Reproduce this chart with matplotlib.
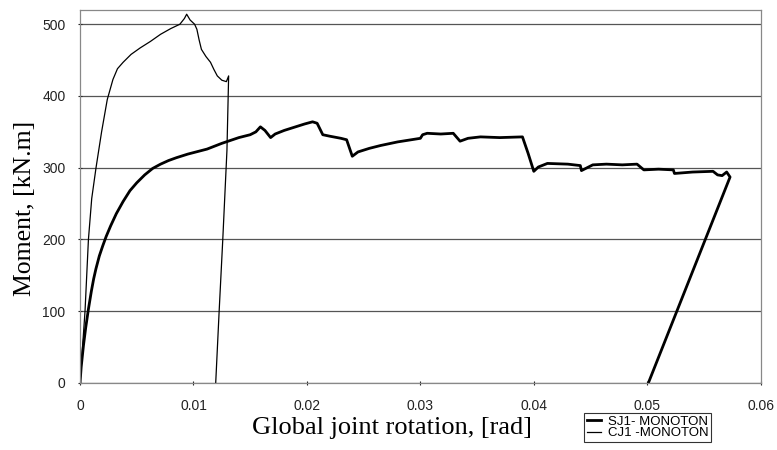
import matplotlib
matplotlib.use("Agg")
import matplotlib.pyplot as plt
import numpy as np

# SJ1 - monotonic test (thick line)
sj1_rot = [0, 0.0001, 0.0003, 0.0005, 0.00074, 0.001, 0.0012, 0.0014, 0.0017,
           0.002, 0.0023, 0.0027, 0.0032, 0.0038, 0.0044, 0.005, 0.0057, 0.0064, 0.0071,
           0.0078, 0.0085, 0.0095, 0.0112, 0.0125, 0.014, 0.015, 0.0155,
           0.0159, 0.0163, 0.0168, 0.0172, 0.018, 0.019, 0.0198, 0.0205,
           0.0209, 0.0214, 0.022, 0.023, 0.0235, 0.024, 0.0245, 0.0255,
           0.0265, 0.028, 0.030, 0.0302, 0.0306, 0.0318, 0.0329, 0.0335,
           0.0342, 0.0353, 0.037, 0.039, 0.0395, 0.0400, 0.0404, 0.0412,
           0.043, 0.0441, 0.0442, 0.0452, 0.0464, 0.0478, 0.0491, 0.0497,
           0.051, 0.0523, 0.0524, 0.054, 0.0558, 0.0562, 0.0566, 0.0570,
           0.0573, 0.0501]
sj1_mom = [0, 22, 52, 77, 103, 128, 145, 159, 177,
           191, 204, 219, 236, 253, 268, 279, 290, 299, 305,
           310, 314, 319, 326, 334, 342, 346, 350,
           357, 352, 342, 347, 352, 357, 361, 364,
           362, 346, 344, 341, 339, 316, 322, 327,
           331, 336, 341, 346, 348, 347, 348, 337,
           341, 343, 342, 343, 320, 295, 301, 306,
           305, 303, 296, 304, 305, 304, 305, 297,
           298, 297, 292, 294, 295, 290, 289, 294,
           287, 0]

# CJ1 - monotonic test (thin line)
cj1_rot = [0, 0.00044, 0.00074, 0.00103, 0.00141, 0.0019, 0.0024,
           0.0029, 0.0033, 0.0038, 0.0045, 0.0053, 0.0062, 0.0071, 0.008,
           0.0088, 0.0092, 0.0094, 0.0097, 0.0101, 0.0103, 0.0105, 0.0107,
           0.0111, 0.0115, 0.0118, 0.0121, 0.0125, 0.0129, 0.0131, 0.01295,
           0.01258, 0.01226, 0.01196]
cj1_mom = [0, 100, 200, 257, 300, 350, 395,
           423, 438, 447, 458, 467, 476, 486, 494,
           500, 508, 514, 506, 500, 493, 478, 465,
           455, 447, 437, 428, 422, 420, 428, 324,
           199, 99, 0]

x_ticks = [0, 0.01, 0.02, 0.03, 0.04, 0.05, 0.06]
x_labels = ["0", "0.01", "0.02", "0.03", "0.04", "0.05", "0.06"]
y_ticks = [0, 100, 200, 300, 400, 500]

fig = plt.figure(figsize=(7.77, 4.5), dpi=100)
ax = fig.add_axes([0.103, 0.149, 0.876, 0.829])

ax.plot(sj1_rot, sj1_mom, color='black', lw=2.0, label='SJ1- MONOTON', solid_joinstyle='round')
ax.plot(cj1_rot, cj1_mom, color='black', lw=0.9, label='CJ1 -MONOTON')

ax.set_xlim(0, 0.06)
ax.set_ylim(0, 520)
ax.set_xticks(x_ticks)
ax.set_xticklabels(x_labels)
ax.set_yticks(y_ticks)
ax.yaxis.grid(True, color='#555555', lw=0.9)
ax.set_axisbelow(True)
for s in ax.spines.values():
    s.set_color('#888888')
    s.set_linewidth(0.9)
ax.tick_params(axis='x', labelsize=10, colors='#222222', length=3,
               direction='inout', pad=10)
ax.tick_params(axis='y', labelsize=10, colors='#222222', length=3,
               direction='inout', pad=9)
for lab in ax.get_xticklabels() + ax.get_yticklabels():
    lab.set_family('Liberation Sans')

ax.set_xlabel('Global joint rotation, [rad]', family='Liberation Serif', fontsize=19)
ax.set_ylabel('Moment, [kN.m]', family='Liberation Serif', fontsize=18.5)
ax.xaxis.set_label_coords(0.459, -0.091)
ax.yaxis.set_label_coords(-0.064, 0.469)

leg = fig.legend(loc='lower left', bbox_to_anchor=(0.752, 0.018), prop={'family': 'Liberation Sans', 'size': 9.5},
                 frameon=True, fancybox=False, edgecolor='black', handlelength=1.1,
                 handletextpad=0.5, labelspacing=-0.05, borderpad=0.2, borderaxespad=0)
leg.get_frame().set_linewidth(0.8)

fig.savefig('out.png', dpi=100)
